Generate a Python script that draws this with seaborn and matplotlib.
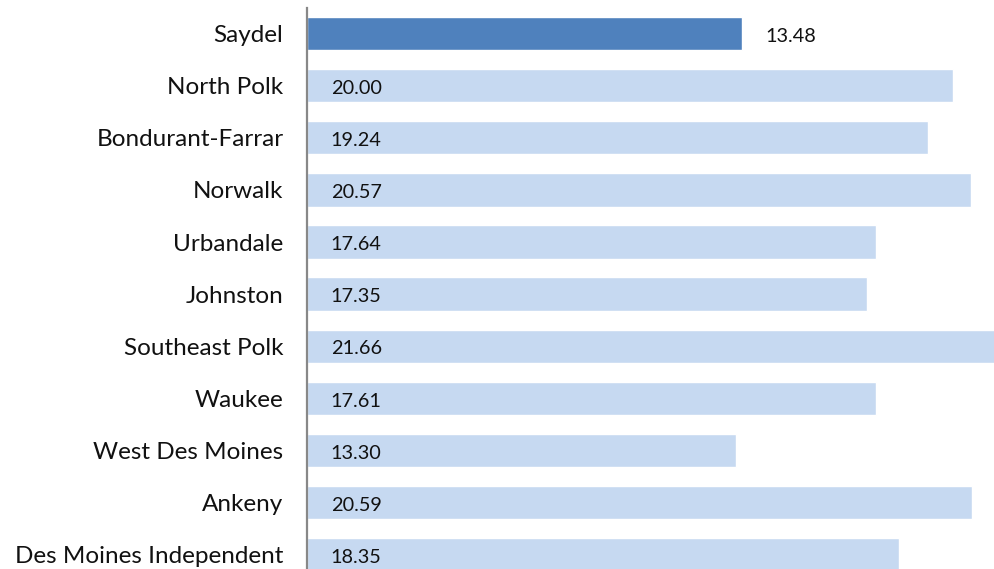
import pandas as pd
import numpy as np
import seaborn as sns
import matplotlib.pyplot as plt

# districts and their values, top to bottom as in the chart
districts = ['Saydel', 'North Polk', 'Bondurant-Farrar', 'Norwalk', 'Urbandale',
             'Johnston', 'Southeast Polk', 'Waukee', 'West Des Moines', 'Ankeny',
             'Des Moines Independent']
values = [13.48, 20.00, 19.24, 20.57, 17.64, 17.35, 21.66, 17.61, 13.30, 20.59, 18.35]
highlight = 'Saydel'

df = pd.DataFrame({'district': districts, 'value': values})

sns.set_style('white')
plt.rcParams['font.family'] = ['Lato', 'DejaVu Sans']

fig = plt.figure(figsize=(9.94, 5.69), dpi=100)
# axes runs a little below the figure edge, like the cropped original
ax = fig.add_axes([307/994, -11.6/569, 687/994, 573/569])

colors = ['#4F81BD' if d == highlight else '#C6D9F1' for d in districts]
sns.barplot(data=df, y='district', x='value', hue='district', palette=colors,
            legend=False, width=0.64, saturation=1, ax=ax)

ax.set_xlim(0, 21.28)
ax.set_xlabel('')
ax.set_ylabel('')
ax.set_xticks([])
for s in ['top', 'right', 'bottom']:
    ax.spines[s].set_visible(False)
ax.spines['left'].set_color('#888888')
ax.spines['left'].set_linewidth(1.6)
ax.tick_params(axis='y', length=0, pad=17, labelsize=17.5, labelcolor='#111111')

# value labels: outside the end for the highlighted bar, at the base for the rest
for i, (d, v) in enumerate(zip(districts, values)):
    xpos = v if d == highlight else 0
    ax.annotate(f'{v:.2f}', (xpos, i), xytext=(17, -2), textcoords='offset points',
                ha='left', va='center', fontsize=14.3, color='#111111')

plt.savefig('out.png', dpi=100)
